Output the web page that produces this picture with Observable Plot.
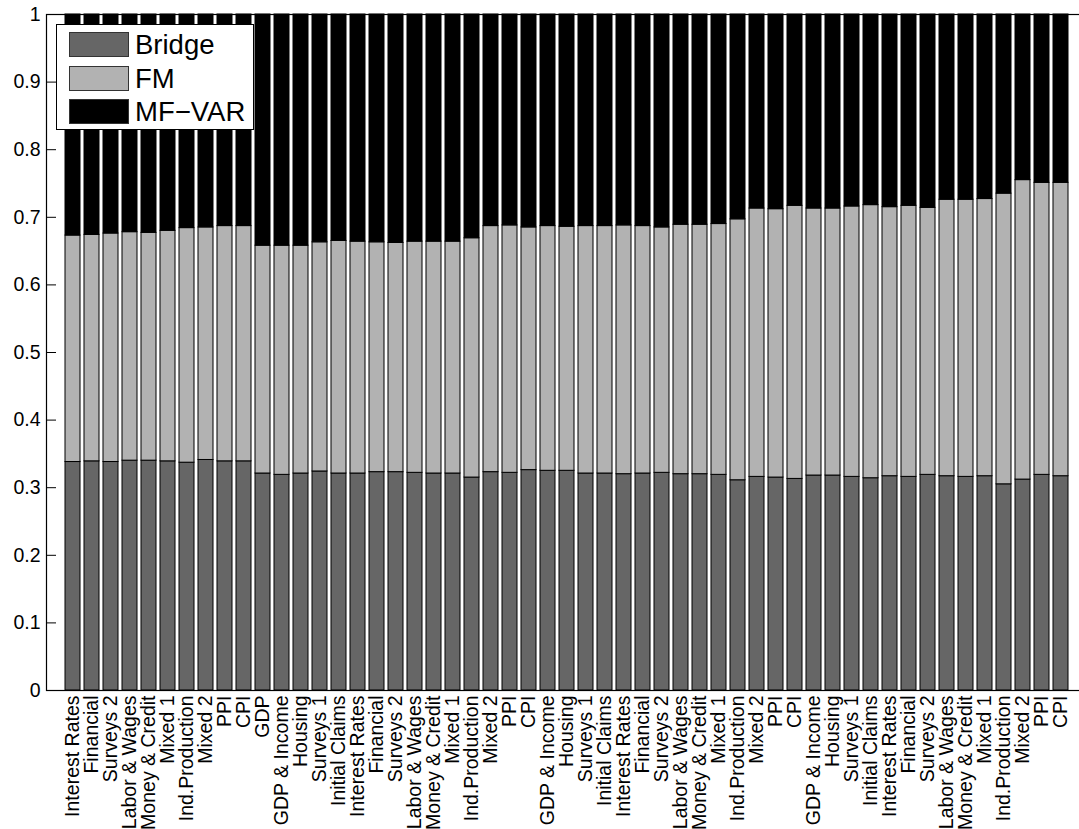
<!DOCTYPE html>
<html>
<head>
<meta charset="utf-8">
<script src="https://cdn.jsdelivr.net/npm/d3@7"></script>
<script src="https://cdn.jsdelivr.net/npm/@observablehq/plot@0.6"></script>
<style>
  html, body { margin: 0; padding: 0; background: #fff; }
  #fig { position: relative; width: 1079px; height: 829px; overflow: hidden; font-family: "Liberation Sans", Arial, Helvetica, sans-serif; }
  #legend { position: absolute; left: 56px; top: 24px; width: 198px; height: 106px; box-sizing: border-box; border: 1px solid #000; background: #fff; }
  #legend .sw { position: absolute; left: 12px; width: 60px; height: 25px; box-sizing: border-box; border: 1px solid #333; }
  #legend .lb { position: absolute; left: 78px; height: 25px; line-height: 25px; font-size: 27.5px; color: #000; white-space: nowrap; }
</style>
</head>
<body>
<div id="fig"></div>
<script>
// Forecast-combination weights per indicator group and horizon block
const labels = [
  "Interest Rates", "Financial", "Surveys 2", "Labor & Wages", "Money & Credit", "Mixed 1", "Ind.Production", "Mixed 2", "PPI", "CPI",
  "GDP", "GDP & Income", "Housing", "Surveys 1", "Initial Claims", "Interest Rates", "Financial", "Surveys 2", "Labor & Wages", "Money & Credit",
  "Mixed 1", "Ind.Production", "Mixed 2", "PPI", "CPI", "GDP & Income", "Housing", "Surveys 1", "Initial Claims", "Interest Rates",
  "Financial", "Surveys 2", "Labor & Wages", "Money & Credit", "Mixed 1", "Ind.Production", "Mixed 2", "PPI", "CPI", "GDP & Income",
  "Housing", "Surveys 1", "Initial Claims", "Interest Rates", "Financial", "Surveys 2", "Labor & Wages", "Money & Credit", "Mixed 1", "Ind.Production",
  "Mixed 2", "PPI", "CPI"
];

const bridge = [
  0.338, 0.339, 0.338, 0.340, 0.340, 0.339, 0.337, 0.341, 0.339, 0.339,
  0.321, 0.319, 0.321, 0.324, 0.321, 0.321, 0.323, 0.323, 0.322, 0.321,
  0.321, 0.315, 0.323, 0.322, 0.326, 0.325, 0.325, 0.321, 0.321, 0.320,
  0.321, 0.322, 0.320, 0.320, 0.319, 0.311, 0.316, 0.315, 0.313, 0.318,
  0.318, 0.316, 0.314, 0.317, 0.316, 0.319, 0.317, 0.316, 0.317, 0.305,
  0.312, 0.319, 0.317
];

const fm = [
  0.335, 0.335, 0.338, 0.338, 0.337, 0.341, 0.347, 0.344, 0.348, 0.348,
  0.337, 0.339, 0.337, 0.339, 0.344, 0.343, 0.340, 0.339, 0.342, 0.343,
  0.343, 0.354, 0.364, 0.366, 0.359, 0.362, 0.361, 0.366, 0.366, 0.368,
  0.366, 0.363, 0.369, 0.369, 0.371, 0.386, 0.397, 0.397, 0.404, 0.395,
  0.395, 0.400, 0.404, 0.398, 0.401, 0.395, 0.409, 0.410, 0.410, 0.430,
  0.443, 0.432, 0.434
];

const mfvar = [
  0.327, 0.326, 0.324, 0.322, 0.323, 0.320, 0.316, 0.315, 0.313, 0.313,
  0.342, 0.342, 0.342, 0.337, 0.335, 0.336, 0.337, 0.338, 0.336, 0.336,
  0.336, 0.331, 0.313, 0.312, 0.315, 0.313, 0.314, 0.313, 0.313, 0.312,
  0.313, 0.315, 0.311, 0.311, 0.310, 0.303, 0.287, 0.288, 0.283, 0.287,
  0.287, 0.284, 0.282, 0.285, 0.283, 0.286, 0.274, 0.274, 0.273, 0.265,
  0.245, 0.249, 0.249
];

const seriesNames = ["Bridge", "FM", "MF\u2212VAR"];
const seriesColors = ["#666666", "#b2b2b2", "#000000"];
const yTicks = [0, 0.1, 0.2, 0.3, 0.4, 0.5, 0.6, 0.7, 0.8, 0.9, 1];

// Long table: one row per bar segment, stacked bottom-up in series order
const seriesValues = [bridge, fm, mfvar];
const rows = labels.flatMap((_, i) =>
  seriesNames.map((s, k) => ({ i, series: s, value: seriesValues[k][i] }))
);

const chart = Plot.plot({
  width: 1079,
  height: 829,
  marginLeft: 46,
  marginRight: -9,
  marginTop: 14,
  marginBottom: 139,
  style: { background: "#fff", color: "#000", fontFamily: "'Liberation Sans', Arial, Helvetica, sans-serif" },
  x: { type: "band", domain: d3.range(labels.length), paddingInner: 0.2, paddingOuter: 0.6, label: null, axis: null },
  y: { domain: [0, 1], label: null },
  color: { domain: seriesNames, range: seriesColors },
  marks: [
    Plot.barY(rows, { x: "i", y: "value", fill: "series", stroke: "#000", strokeWidth: 1 }),
    Plot.frame({ stroke: "#000", strokeWidth: 1.2 }),
    Plot.axisY({ ticks: yTicks, tickSize: -10, tickPadding: 16, tickFormat: d => String(d), fontSize: 19.5, strokeWidth: 1 }),
    Plot.axisY({ anchor: "right", ticks: yTicks, tickSize: -10, fill: "none", stroke: "#000", strokeWidth: 1 }),
    // Category names, rotated and hanging below the axis
    Plot.text(labels, {
      x: (d, i) => i,
      frameAnchor: "bottom",
      text: d => d,
      rotate: -90,
      textAnchor: "end",
      lineAnchor: "middle",
      dy: 5,
      fontSize: 19.5,
      fill: "#000"
    })
  ]
});

const fig = document.getElementById("fig");
fig.appendChild(chart);

// Legend box in the upper-left corner of the axes
const legend = document.createElement("div");
legend.id = "legend";
seriesNames.forEach((name, k) => {
  const sw = document.createElement("div");
  sw.className = "sw";
  sw.style.top = (7 + 33.7 * k) + "px";
  sw.style.background = seriesColors[k];
  const lb = document.createElement("div");
  lb.className = "lb";
  lb.style.top = (7 + 33.7 * k) + "px";
  lb.textContent = name;
  legend.appendChild(sw);
  legend.appendChild(lb);
});
fig.appendChild(legend);
</script>
</body>
</html>
